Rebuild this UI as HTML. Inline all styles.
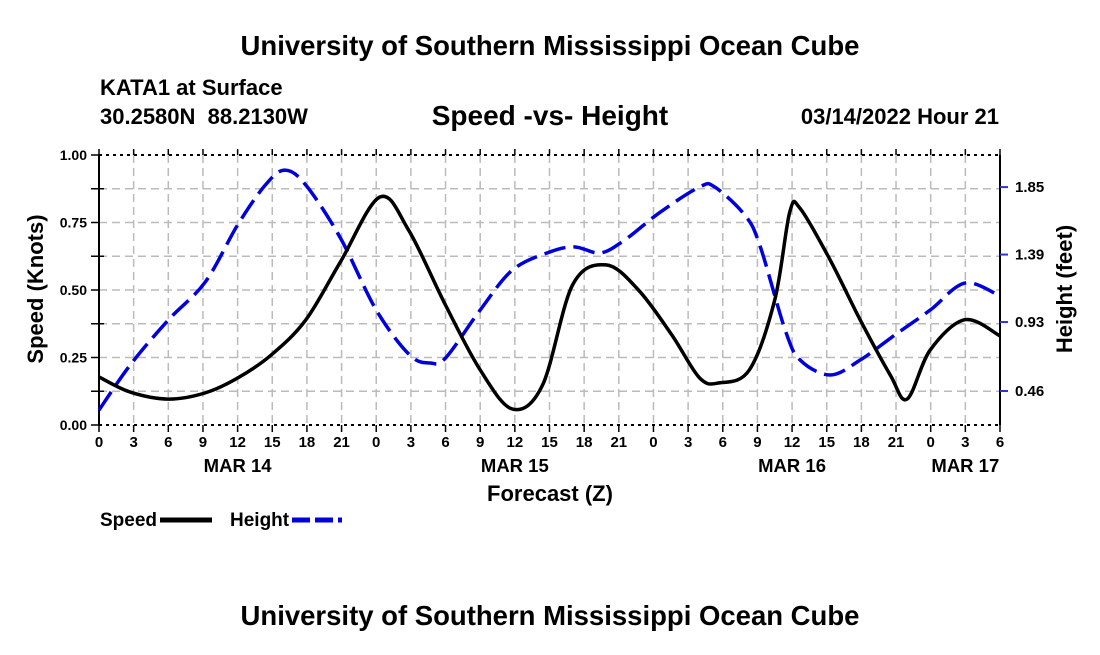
<!DOCTYPE html>
<html><head><meta charset="utf-8"><style>
body{margin:0;background:#fff;width:1100px;height:650px;overflow:hidden;font-family:"Liberation Sans",sans-serif;}
svg text{font-family:"Liberation Sans",sans-serif;font-weight:bold;white-space:pre;}
</style></head><body>
<svg id="c" width="1100" height="650">
<text x="550" y="55" text-anchor="middle" font-size="27.5">University of Southern Mississippi Ocean Cube</text>
<text x="100" y="95" font-size="22">KATA1 at Surface</text>
<text x="100" y="124" font-size="22" xml:space="preserve">30.2580N  88.2130W</text>
<text x="550" y="125" text-anchor="middle" font-size="28">Speed -vs- Height</text>
<text x="999" y="124" text-anchor="end" font-size="22">03/14/2022 Hour 21</text>
<text x="550" y="501" text-anchor="middle" font-size="22">Forecast (Z)</text>
<text transform="translate(43,289) rotate(-90)" text-anchor="middle" font-size="22">Speed (Knots)</text>
<text transform="translate(1072,289) rotate(-90)" text-anchor="middle" font-size="22">Height (feet)</text>
<text x="100" y="526" font-size="19">Speed</text>
<line x1="160" y1="520" x2="212" y2="520" stroke="#000" stroke-width="5"/>
<text x="230" y="526" font-size="19">Height</text>
<line x1="292" y1="520" x2="342" y2="520" stroke="#0000dd" stroke-width="5" stroke-dasharray="18,5"/>
<text x="550" y="625" text-anchor="middle" font-size="27.5">University of Southern Mississippi Ocean Cube</text>
<g id="plot"></g>
</svg>
<script>
const speedHours=[0,2.7,6,9.2,12,14.9,17.9,20.9,24.3,26.8,30,33,35.8,38.4,41,43.9,46.7,49.6,52,53.7,56.3,58.5,59.8,60.7,63.3,65.9,68.5,69.96,71.96,74.96,78];
const speedValues=[0.178,0.122,0.096,0.119,0.174,0.259,0.389,0.604,0.844,0.722,0.444,0.204,0.059,0.148,0.519,0.593,0.5,0.333,0.174,0.156,0.204,0.463,0.789,0.802,0.611,0.389,0.185,0.096,0.278,0.39,0.33];
const heightHours=[0,2.7,6,9.2,12,14.4,16.1,17.9,20.9,24,26.9,28.7,30,33,35.8,39,41.2,43.4,45.5,48.6,52,53.3,55.9,57.2,59.4,60.7,63.3,65.9,68.9,71.96,74.96,78];
const heightValues=[0.33,0.637,0.944,1.203,1.592,1.864,1.966,1.864,1.503,1.012,0.705,0.651,0.685,1.012,1.285,1.407,1.442,1.401,1.489,1.68,1.851,1.851,1.66,1.455,0.876,0.671,0.569,0.671,0.842,1.012,1.196,1.108];
const xTickLabels=["0","3","6","9","12","15","18","21","0","3","6","9","12","15","18","21","0","3","6","9","12","15","18","21","0","3","6"];
const dayLabels=["MAR 14","MAR 15","MAR 16","MAR 17"];
const dayHours=[12,36,60,75];
const leftTicks=["0.00","0.25","0.50","0.75","1.00"];
const rightTicks=[0.46,0.93,1.39,1.85];

const X0=99,X1=1000,Y0=425,Y1=155;
const xs=h=>X0+(X1-X0)*h/78;
const ys=v=>Y0-(Y0-Y1)*v;
const yh=f=>391-(f-0.46)*146.7;
const NS="http://www.w3.org/2000/svg";
const g=document.getElementById('plot');
function mk(t,a,name){const e=document.createElementNS(NS,t);for(const k in a)e.setAttribute(k,a[k]);


g.appendChild(e);return e;}
for(let i=1;i<26;i++){const x=xs(i*3);mk('line',{x1:x,x2:x,y1:Y1,y2:Y0,stroke:'#bbb','stroke-width':1.5,'stroke-dasharray':'8,5'},'grid-vertical');}
for(let i=1;i<8;i++){const y=ys(i*0.125);mk('line',{x1:X0,x2:X1,y1:y,y2:y,stroke:'#bbb','stroke-width':1.5,'stroke-dasharray':'8,5'},'grid-horizontal');}
mk('line',{x1:X0,x2:X0,y1:Y1,y2:Y0,stroke:'#000','stroke-width':2},'y-axis-left');
mk('line',{x1:X1,x2:X1,y1:Y1,y2:Y0,stroke:'#000','stroke-width':2},'y-axis-right');
mk('line',{x1:X0,x2:X1,y1:Y0,y2:Y0,stroke:'#000','stroke-width':2,'stroke-dasharray':'3,4'},'x-axis');
mk('line',{x1:X0,x2:X1,y1:Y1,y2:Y1,stroke:'#000','stroke-width':2,'stroke-dasharray':'3,4'},'top-border');
for(let i=0;i<=26;i++){const x=xs(i*3);
mk('line',{x1:x,x2:x,y1:Y0,y2:Y0+7,stroke:'#000','stroke-width':1.5},'x-tick');
mk('line',{x1:x,x2:x,y1:Y1,y2:Y1-6,stroke:'#000','stroke-width':1.5},'x-tick-top');
const t=mk('text',{x:x,y:447,'text-anchor':'middle','font-size':15},'x-tick-label');t.textContent=xTickLabels[i];}
dayLabels.forEach((d,i)=>{const t=mk('text',{x:xs(dayHours[i]),y:472,'text-anchor':'middle','font-size':18.5},'day-label');t.textContent=d;});
for(let i=0;i<=8;i++){const y=ys(i*0.125);mk('line',{x1:X0-8,x2:X0+(i%2?5:0),y1:y,y2:y,stroke:'#000','stroke-width':1.5},'y-tick-left');}
leftTicks.forEach((l,i)=>{const t=mk('text',{x:87,y:ys(i*0.25)+5,'text-anchor':'end','font-size':14},'y-tick-label-left');t.textContent=l;});
rightTicks.forEach(v=>{const y=yh(v);mk('line',{x1:X1,x2:X1+8,y1:y,y2:y,stroke:'#3333cc','stroke-width':2},'y-tick-right');
const t=mk('text',{x:1015,y:y+5,'font-size':15},'y-tick-label-right');t.textContent=v.toFixed(2);});
function path(px){let d=`M${px[0][0]},${px[0][1]}`;
for(let i=0;i<px.length-1;i++){const p0=px[Math.max(0,i-1)],p1=px[i],p2=px[i+1],p3=px[Math.min(px.length-1,i+2)];
d+=` C${p1[0]+(p2[0]-p0[0])/6},${p1[1]+(p2[1]-p0[1])/6} ${p2[0]-(p3[0]-p1[0])/6},${p2[1]-(p3[1]-p1[1])/6} ${p2[0]},${p2[1]}`;}return d;}
mk('path',{d:path(heightHours.map((h,i)=>[xs(h),yh(heightValues[i])])),fill:'none',stroke:'#0000dd','stroke-width':3.5,'stroke-dasharray':'22,8'},'height-line');
mk('path',{d:path(speedHours.map((h,i)=>[xs(h),ys(speedValues[i])])),fill:'none',stroke:'#000','stroke-width':3.5},'speed-line');
</script>
</body></html>
